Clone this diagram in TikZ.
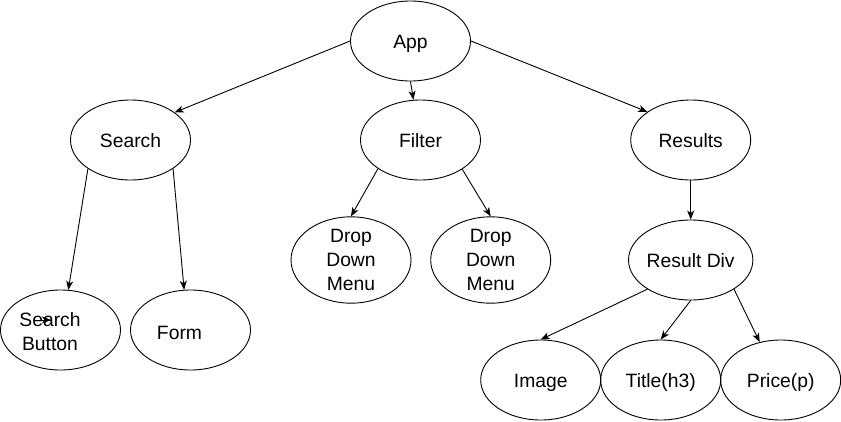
\documentclass[tikz,border=0pt]{standalone}
\usepackage{fontspec}
\setmainfont{Liberation Sans}
\usetikzlibrary{shapes.geometric,arrows.meta}
\begin{document}
\begin{tikzpicture}[x=1pt,y=-1pt,
  ell/.style={draw, ellipse, line width=0.9pt, minimum width=120pt, minimum height=80pt,
    inner sep=0pt, align=center, font=\fontsize{19.3}{23.8}\selectfont},
  one/.style={text height=14pt, text depth=0pt},
  lbl/.style={font=\fontsize{19.3}{23.8}\selectfont, align=center, inner sep=0pt},
  conn/.style={line width=0.9pt, -{Stealth[length=9pt,width=7pt,inset=2.5pt]}}]
\useasboundingbox[fill=white] (0,0) rectangle (841,421);

\node[ell,one] (app) at (410.5,41) {App};
\node[ell,one] (search) at (130.5,140) {Search};
\node[ell,one] (filter) at (420.5,140) {Filter};
\node[ell,one] (results) at (690.7,140) {Results};

\node[ell] (sb) at (60.5,330) {};
\node[lbl] at (50,331.5) {Search\\Button};
\node[ell] (form) at (190.5,330) {};
\node[lbl,one] at (179.5,332) {Form};

\node[ell] (ddm1) at (351,260) {Drop\\Down\\Menu};
\node[ell] (ddm2) at (490.7,260) {Drop\\Down\\Menu};
\node[ell,one] (rdiv) at (690.7,260) {Result Div};

\node[ell,one] (image) at (540.7,380) {Image};
\node[ell,one] (title) at (660.7,380) {Title(h3)};
\node[ell,one] (price) at (780.7,380) {Price(p)};

\draw[conn] (app.west) -- (search.32.5);
\draw[conn] (app.south) -- (filter.100);
\draw[conn] (app.east) -- (results.147);

\draw[conn] (search.214) -- (sb.79);
\draw[conn] (search.326) -- (form.99);

\draw[conn] (filter.214) -- (ddm1.north);
\draw[conn] (filter.325) -- (ddm2.north);

\draw[conn] (results.south) -- (rdiv.north);

\draw[conn] (rdiv.214) -- (image.north);
\draw[conn] (rdiv.south) -- (title.north);
\draw[conn] (rdiv.326) -- (price.119);

\coordinate (s1) at (38,320);
\coordinate (s2) at (51,320);
\draw[conn] (s1) -- (s2);
\end{tikzpicture}
\end{document}
